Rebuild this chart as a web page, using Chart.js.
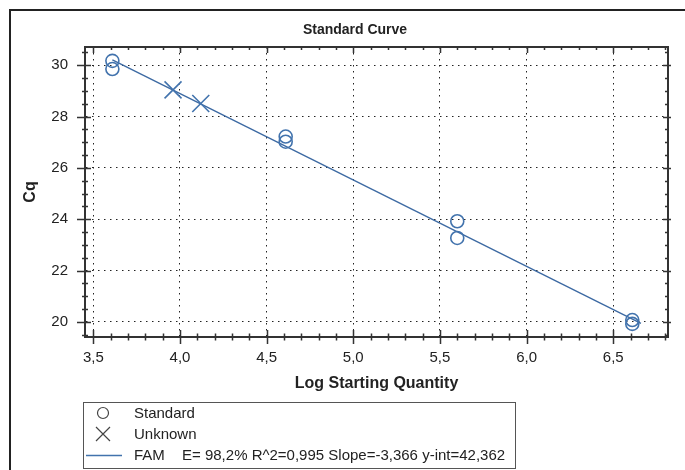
<!DOCTYPE html>
<html lang="en">
<head>
    <meta charset="UTF-8">
    <title>Standard Curve</title>
    <script src="https://cdn.jsdelivr.net/npm/chart.js"></script>
    <style>
        body { margin: 0; background: #fff; }
        #wrap { width: 685px; height: 470px; position: relative; }
    </style>
</head>
<body>
    <div id="wrap">
        <canvas id="curveChart" width="685" height="470"></canvas>
    </div>

    <script>
        // values
        const standardX = [3.61, 3.61, 4.61, 4.61, 5.60, 5.60, 6.61, 6.61];
        const standardY = [30.17, 29.85, 27.22, 27.02, 23.92, 23.27, 20.07, 19.92];
        const unknownX = [3.96, 4.12];
        const unknownY = [29.04, 28.51];
        const fitX = [3.61, 6.66];
        const fitY = [30.21, 19.94];
        const fitStats = 'E= 98,2% R^2=0,995 Slope=-3,366 y-int=42,362';

        const xMin = 3.452, xMax = 6.816, xStep = 0.5, xMinor = 0.1;
        const yMin = 19.41, yMax = 30.71, yStep = 2, yMinor = 0.5;

        const blue = '#4273ad';
        const axisColor = '#333';
        const textColor = '#222';
        const fontFam = '"Liberation Sans", Arial, sans-serif';

        const toPoints = (xs, ys) => xs.map((x, i) => ({ x: x, y: ys[i] }));
        const comma = v => Number(v).toFixed(1).replace('.', ',');

        // outer frame, title, box ticks and legend
        const decorations = {
            id: 'decorations',
            beforeDraw(chart) {
                const ctx = chart.ctx;
                ctx.save();
                ctx.fillStyle = '#fff';
                ctx.fillRect(0, 0, chart.width, chart.height);
                ctx.strokeStyle = '#222';
                ctx.lineWidth = 2;
                ctx.beginPath();
                ctx.moveTo(10, chart.height);
                ctx.lineTo(10, 10);
                ctx.lineTo(chart.width, 10);
                ctx.stroke();

                ctx.fillStyle = textColor;
                ctx.font = 'bold 14px ' + fontFam;
                ctx.textAlign = 'center';
                ctx.textBaseline = 'middle';
                ctx.fillText('Standard Curve', 355, 30);
                ctx.restore();
            },
            afterDraw(chart) {
                const ctx = chart.ctx;
                const xs = chart.scales.x, ys = chart.scales.y;
                const a = chart.chartArea;
                ctx.save();
                ctx.strokeStyle = axisColor;
                ctx.lineWidth = 2;
                ctx.beginPath();
                ctx.moveTo(a.left, a.top);
                ctx.lineTo(a.right, a.top);
                ctx.lineTo(a.right, a.bottom);
                ctx.stroke();

                ctx.lineWidth = 1.5;
                ctx.beginPath();
                for (let v = 3.5; v <= xMax + 1e-9; v += xMinor) {
                    const px = Math.round(xs.getPixelForValue(v)) + 0.5;
                    const major = Math.abs(v / xStep - Math.round(v / xStep)) < 1e-6;
                    const len = major ? 7 : 3.5;
                    ctx.moveTo(px, a.bottom - len); ctx.lineTo(px, a.bottom + len);
                    ctx.moveTo(px, a.top); ctx.lineTo(px, a.top + (major ? 6 : 3));
                }
                for (let v = 19.5; v <= yMax + 1e-9; v += yMinor) {
                    const py = Math.round(ys.getPixelForValue(v)) + 0.5;
                    const major = Math.abs(v / yStep - Math.round(v / yStep)) < 1e-6;
                    ctx.moveTo(a.left - (major ? 8 : 3), py); ctx.lineTo(a.left + (major ? 6 : 3), py);
                    ctx.moveTo(a.right - (major ? 5 : 3), py); ctx.lineTo(a.right + (major ? 3 : 0), py);
                }
                ctx.stroke();

                // legend box
                const lx = 83, ly = 402, lw = 432, lh = 66;
                ctx.fillStyle = '#fff';
                ctx.fillRect(lx, ly, lw, lh);
                ctx.strokeStyle = '#555';
                ctx.lineWidth = 1;
                ctx.strokeRect(lx + 0.5, ly + 0.5, lw, lh);

                const sets = chart.data.datasets;
                const rows = [413, 434, 455];
                ctx.strokeStyle = '#444';
                ctx.lineWidth = 1.2;
                ctx.beginPath();
                ctx.arc(103, rows[0], 5.5, 0, Math.PI * 2);
                ctx.stroke();
                ctx.beginPath();
                ctx.moveTo(96, rows[1] - 7); ctx.lineTo(110, rows[1] + 7);
                ctx.moveTo(110, rows[1] - 7); ctx.lineTo(96, rows[1] + 7);
                ctx.stroke();
                ctx.strokeStyle = blue;
                ctx.lineWidth = 1.5;
                ctx.beginPath();
                ctx.moveTo(86, rows[2] + 0.5); ctx.lineTo(122, rows[2] + 0.5);
                ctx.stroke();

                ctx.fillStyle = textColor;
                ctx.font = '15px ' + fontFam;
                ctx.textAlign = 'left';
                ctx.textBaseline = 'middle';
                sets.forEach((ds, i) => ctx.fillText(ds.label, 134, rows[i] + 1));
                ctx.fillText(fitStats, 182, rows[2] + 1);
                ctx.restore();
            }
        };

        const ctx = document.getElementById('curveChart').getContext('2d');
        const chart = new Chart(ctx, {
            type: 'scatter',
            data: {
                datasets: [{
                    label: 'Standard',
                    data: toPoints(standardX, standardY),
                    pointStyle: 'circle',
                    pointRadius: 6.5,
                    borderColor: blue,
                    backgroundColor: 'rgba(0,0,0,0)',
                    borderWidth: 1.6,
                    order: 1
                }, {
                    label: 'Unknown',
                    data: toPoints(unknownX, unknownY),
                    pointStyle: 'crossRot',
                    pointRadius: 12,
                    borderColor: blue,
                    borderWidth: 1.6,
                    order: 1
                }, {
                    label: 'FAM',
                    type: 'line',
                    data: toPoints(fitX, fitY),
                    showLine: true,
                    pointRadius: 0,
                    borderColor: '#3d6aa3',
                    borderWidth: 1.4,
                    fill: false,
                    order: 2
                }]
            },
            options: {
                responsive: false,
                animation: false,
                devicePixelRatio: 1,
                layout: { padding: { left: 10, right: 17, top: 47, bottom: 73 } },
                plugins: {
                    legend: { display: false },
                    title: { display: false },
                    tooltip: { enabled: false }
                },
                scales: {
                    x: {
                        type: 'linear',
                        min: xMin,
                        max: xMax,
                        afterFit: s => { s.height = 60; },
                        ticks: {
                            stepSize: xStep,
                            includeBounds: false,
                            padding: 12,
                            color: textColor,
                            font: { family: fontFam, size: 15 },
                            callback: v => comma(v)
                        },
                        grid: { color: '#222', drawTicks: false, lineWidth: 1 },
                        border: { color: axisColor, width: 2, dash: [1.5, 4.5] },
                        title: {
                            display: true,
                            text: 'Log Starting Quantity',
                            color: textColor,
                            font: { family: fontFam, size: 16, weight: 'bold' },
                            padding: { top: 0, bottom: 4 }
                        }
                    },
                    y: {
                        type: 'linear',
                        min: yMin,
                        max: yMax,
                        afterFit: s => { s.width = 75; },
                        ticks: {
                            stepSize: yStep,
                            includeBounds: false,
                            padding: 17,
                            color: textColor,
                            font: { family: fontFam, size: 15 },
                            callback: v => String(v)
                        },
                        grid: { color: '#222', drawTicks: false, lineWidth: 1 },
                        border: { color: axisColor, width: 2, dash: [1.5, 4.5] },
                        title: {
                            display: true,
                            text: 'Cq',
                            color: textColor,
                            font: { family: fontFam, size: 16, weight: 'bold' },
                            padding: { top: 11, bottom: 0 }
                        }
                    }
                }
            },
            plugins: [decorations]
        });
    </script>
</body>
</html>
